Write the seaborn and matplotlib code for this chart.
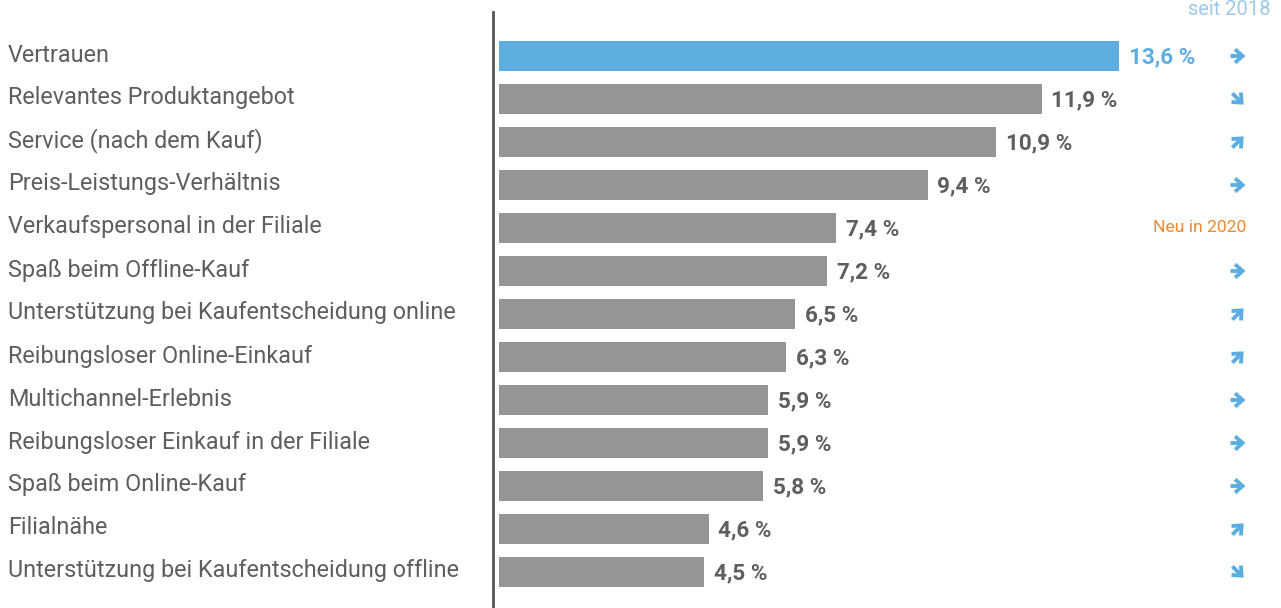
import matplotlib
matplotlib.use("Agg")
import matplotlib.pyplot as plt
import seaborn as sns
import pandas as pd
import numpy as np

categories = [
    "Vertrauen",
    "Relevantes Produktangebot",
    "Service (nach dem Kauf)",
    "Preis-Leistungs-Verhältnis",
    "Verkaufspersonal in der Filiale",
    "Spaß beim Offline-Kauf",
    "Unterstützung bei Kaufentscheidung online",
    "Reibungsloser Online-Einkauf",
    "Multichannel-Erlebnis",
    "Reibungsloser Einkauf in der Filiale",
    "Spaß beim Online-Kauf",
    "Filialnähe",
    "Unterstützung bei Kaufentscheidung offline",
]
values = [13.6, 11.9, 10.9, 9.4, 7.4, 7.2, 6.5, 6.3, 5.9, 5.9, 5.8, 4.6, 4.5]
value_labels = ["13,6 %", "11,9 %", "10,9 %", "9,4 %", "7,4 %", "7,2 %", "6,5 %",
                "6,3 %", "5,9 %", "5,9 %", "5,8 %", "4,6 %", "4,5 %"]
trends = ["flat", "down", "up", "flat", "new", "flat", "up", "up", "flat", "flat",
          "flat", "up", "down"]
new_label = "Neu in 2020"
trend_header = "seit 2018"

BLUE = "#5caee0"
GRAY = "#959598"
TEXT = "#5e5e60"
ORANGE = "#f0892a"

sns.set_theme(style="white")
plt.rcParams["font.family"] = ["Roboto", "DejaVu Sans"]

W, H = 1281, 608
fig = plt.figure(figsize=(W / 100, H / 100), dpi=100)
ax_left, ax_top, ax_bottom = 493, 12, 608
ax = fig.add_axes([ax_left / W, 0, (W - ax_left) / W, (ax_bottom - ax_top) / H])

df = pd.DataFrame({"cat": categories, "val": values})
colors = [BLUE] + [GRAY] * (len(categories) - 1)
sns.barplot(data=df, x="val", y="cat", hue="cat", palette=colors, legend=False,
            width=0.70, ax=ax, saturation=1, edgecolor="none")

px_per_unit = 45.6
x0 = -6 / px_per_unit
ax.set_xlim(x0, x0 + (W - ax_left) / px_per_unit)
row0, step = 56, 43.0
ax.set_ylim((ax_bottom - row0) / step, (ax_top - row0) / step)

for s in ["top", "right", "bottom"]:
    ax.spines[s].set_visible(False)
ax.spines["left"].set_color("#555555")
ax.spines["left"].set_linewidth(2)
ax.set_xticks([])
ax.set_yticks([])
ax.set_xlabel("")
ax.set_ylabel("")

angles = {"flat": 0.0, "up": 45.0, "down": -45.0}
arrow_x = 1238

for i, (cat, v, lab, tr) in enumerate(zip(categories, values, value_labels, trends)):
    col = BLUE if i == 0 else TEXT
    ax.annotate(lab, xy=(v, i), xytext=(7, -1), textcoords="offset points",
                ha="left", va="center", fontsize=16.2, fontweight="bold", color=col)
    y_px = row0 + step * i
    y_row = 1 - y_px / H
    fig.text(8 / W, y_row + 1 / H, cat, ha="left", va="center", fontsize=16.8, color=TEXT)
    if tr == "new":
        fig.text(1246 / W, y_row, new_label, ha="right", va="center", fontsize=12.6,
                 color=ORANGE)
    else:
        a = np.deg2rad(angles[tr])
        half = 7.5 if tr == "flat" else 8.0
        dx, dy = half * np.cos(a), half * np.sin(a)
        cy = H - y_px
        fig.add_artist(matplotlib.patches.FancyArrowPatch(
            (arrow_x - dx, cy - dy), (arrow_x + dx, cy + dy),
            transform=None, arrowstyle="->,head_length=0.45,head_width=0.4",
            lw=2.8, color=BLUE, shrinkA=0, shrinkB=0, mutation_scale=12,
            joinstyle="miter", capstyle="butt"))

fig.text(1270 / W, 1.0, trend_header, ha="right", va="top", fontsize=14.5,
         color="#9cc9ea")

fig.savefig("out.png", dpi=100)
